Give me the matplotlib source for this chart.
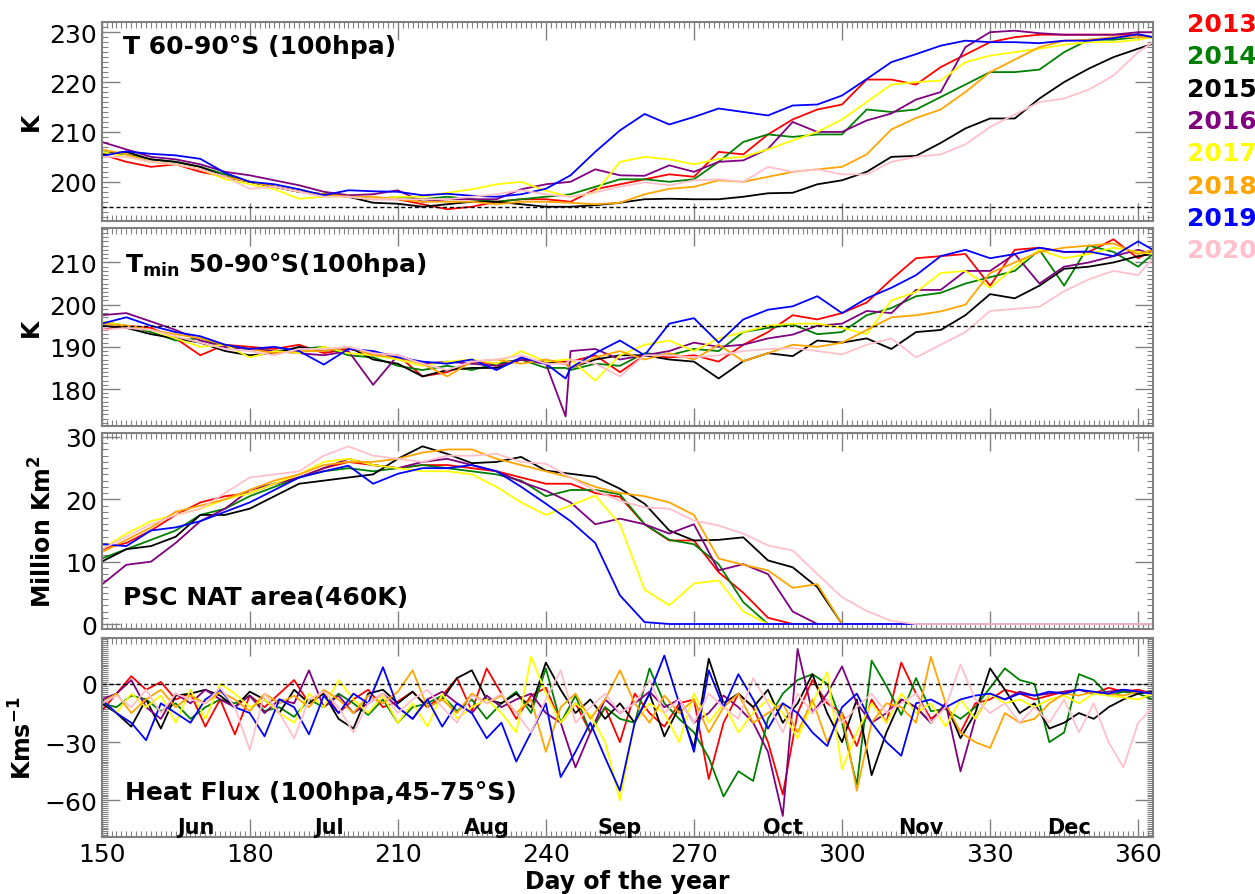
import matplotlib.pyplot as plt
import numpy as np
from matplotlib.ticker import MultipleLocator

plt.rcParams["font.family"] = ["DejaVu Sans"]

years = ["2013", "2014", "2015", "2016", "2017", "2018", "2019", "2020"]
colors = ["red", "green", "black", "purple", "yellow", "orange", "blue", "pink"]

# day axes of the read-off samples
t_days = list(range(150, 361, 5)) + [363]
tmin_days = list(range(150, 241, 5)) + [244] + list(range(245, 361, 5)) + [363]
hf_days = list(range(150, 364, 3))

months = ["Jun", "Jul", "Aug", "Sep", "Oct", "Nov", "Dec"]
month_days = [169, 196, 228, 255, 288, 316, 346]

# T 60-90S at 100 hPa (K)
t60_13 = [205.5, 204, 203, 203.5, 202, 201, 200, 199, 198, 197.5,
          197, 196.5, 196.5, 195.5, 194.5, 195, 196, 196.5, 196.5, 196,
          198.5, 199.5, 200.5, 201.5, 201, 206, 205.5, 209.5, 212.5, 214.5,
          215.5, 220.5, 220.5, 219.5, 223, 225.5, 228, 229, 229.5, 229.5,
          229.5, 229.5, 229.5, 229]
t60_14 = [206, 205.5, 204.5, 204, 203, 201.5, 200, 199, 198, 197.5,
          197, 196.5, 197, 196.5, 197, 196.5, 196, 196.5, 197, 197.5,
          199, 200.5, 200.5, 200, 200.5, 204, 208, 209.5, 209, 209.5,
          209.5, 214.5, 214, 214.5, 217, 219.5, 222, 222, 222.5, 226,
          228.5, 228.5, 229, 229]
t60_15 = [205.5, 206, 204.5, 204, 203, 201, 200, 199, 198, 197.5,
          197, 195.8, 195.6, 195, 195.5, 196, 196, 195.5, 195, 195,
          195.3, 195.8, 196.5, 196.6, 196.5, 196.5, 197, 197.7, 197.8, 199.5,
          200.3, 202, 205, 205.2, 207.8, 210.7, 212.7, 212.7, 216.7, 220,
          222.7, 225, 226.7, 227.7]
t60_16 = [208, 206.5, 205, 204.5, 203.5, 202, 201.3, 200.3, 199.3, 198,
          197.3, 197.5, 198.3, 196, 196.5, 196.5, 196.5, 198.5, 199.5, 200,
          202.5, 201.3, 201.2, 203.3, 202, 204, 204.3, 206.6, 212, 210,
          210, 212.3, 213.7, 216.5, 218, 227, 230, 230.3, 229.8, 229.5,
          229.5, 229.5, 230, 230]
t60_17 = [206, 205, 204, 203.5, 202.5, 200.5, 199.5, 198.5, 196.6, 197,
          197, 196.5, 197, 197, 197.8, 198.5, 199.5, 200, 198.2, 197,
          197.8, 204, 205, 204.5, 203.5, 204.6, 205, 206.5, 208.3, 210,
          212.5, 216, 219.5, 220, 220.3, 224, 225.3, 226, 226.7, 227.5,
          228, 228, 228.5, 229]
t60_18 = [206.5, 205.5, 204, 203.5, 202.5, 201, 200, 199, 198, 197.5,
          197, 197, 196.5, 196, 196, 196, 195.5, 196, 196, 195.8,
          195.5, 195.8, 197.5, 198.6, 199, 200.3, 200, 201, 202, 202.5,
          203, 205.5, 210.5, 212.8, 214.5, 218, 222, 224.5, 227, 228.3,
          228.5, 229, 229, 229]
t60_19 = [205.2, 206.1, 205.6, 205.3, 204.6, 201.8, 200, 199.5, 198.5, 197.3,
          198.3, 198.1, 198, 197.3, 197.6, 197.2, 197, 197.5, 198.6, 201.3,
          206, 210.3, 213.6, 211.5, 213, 214.7, 214, 213.3, 215.3, 215.5,
          217.3, 220.6, 224, 225.6, 227.3, 228.3, 228, 228, 227.8, 228.3,
          228.3, 228.8, 229.6, 229]
t60_20 = [205, 205, 204, 203.5, 202.5, 201, 198.6, 199, 198, 197,
          197, 196.5, 196.5, 196.5, 196.5, 197, 197.5, 198.3, 197.5, 197,
          197.9, 199, 199.9, 199.3, 200.3, 200.5, 200, 203, 202, 202.5,
          201.5, 201.5, 204, 205, 205.5, 207.5, 211, 213.5, 216, 216.7,
          218.5, 221.3, 226, 228]

# Tmin 50-90S at 100 hPa (K)
tmin_13 = [194, 195, 194.5, 192, 188, 190.5, 190, 189.5, 190.5, 188.5,
           189.5, 188.5, 188, 183, 184, 186.5, 186, 187, 186, 186.5,
           186.5, 188, 184, 188, 187.5, 188, 186.5, 190.5, 193.5, 197.5,
           196.5, 198, 200.5, 206, 211, 211.5, 212, 204.5, 213, 213.5,
           212.5, 212.5, 215.5, 211, 213]
tmin_14 = [196, 195, 193.5, 191.5, 192, 190, 189.5, 189, 189.5, 190,
           188, 187.5, 185.5, 184.5, 185.5, 184.5, 186, 187, 185, 185,
           184.5, 186, 185.5, 188.5, 188, 189.5, 189, 193.5, 194.5, 195.3,
           193, 193.5, 197.5, 199.2, 202, 202.8, 205, 206.5, 208, 213,
           204.5, 214, 212.5, 209, 212]
tmin_15 = [195, 194.5, 193, 192, 191, 189, 188, 188.5, 190, 189,
           190, 187, 186, 183, 184.5, 185, 185, 187, 186.5, 186,
           185, 187, 188, 188, 187, 186.5, 182.5, 186.6, 188.5, 187.8,
           191.5, 191, 192, 189.5, 193.5, 194, 197.5, 202.5, 201.5, 204.5,
           208.5, 209, 210, 211.5, 212]
tmin_16 = [197.5, 198, 196, 194, 191.5, 190, 189.5, 189, 188.5, 188,
           189, 181, 188, 186, 186.5, 186, 185.5, 187, 186, 173.5,
           189, 189.5, 187, 188, 189, 191, 190, 190.5, 192, 192.9,
           195, 195.5, 198.5, 198, 203.5, 203.5, 208, 208, 212, 205,
           209, 210, 211.5, 213, 212]
tmin_17 = [196, 195, 194, 192, 190, 190.5, 187.5, 189, 188.5, 190,
           188.5, 188, 187, 185.5, 186.5, 187, 186, 189, 186.5, 187,
           187, 182, 188, 190.5, 191.5, 189, 192, 193.5, 195, 195.5,
           195.5, 194.5, 193, 201, 203, 207.5, 208, 204, 209, 213,
           211, 212, 213.5, 212.5, 212]
tmin_18 = [195.5, 195, 194, 193, 192, 190.5, 189.5, 188.5, 189, 189,
           190, 188, 187.5, 186, 183, 186.5, 187, 186, 187, 186,
           185, 187.5, 189, 187, 188.5, 187, 190.5, 186.6, 188.5, 190.5,
           190, 191, 194, 197, 197.5, 198.4, 200, 207.5, 210, 212.5,
           213.5, 214, 214.5, 212, 213]
tmin_19 = [195.5, 197, 195, 193.5, 192.5, 190.5, 189.5, 190, 189, 185.8,
           189.5, 189, 187.5, 186.5, 186, 187, 184.5, 187.5, 186, 182.5,
           185, 188.5, 191.5, 188, 195.5, 196.8, 191, 196.5, 198.8, 199.6,
           202, 198, 201.5, 204, 207, 211.5, 213, 211, 212, 213.5,
           212.5, 212.6, 211.5, 215, 213]
tmin_20 = [194, 194.5, 194, 192.5, 191, 189.5, 189, 188, 189.5, 189.5,
           190, 188.5, 188, 186, 184.5, 186.5, 187, 188, 186, 186,
           187, 186, 183, 188, 188, 187.5, 188, 189, 189.5, 189.7,
           189, 188.2, 190.5, 192, 187.5, 190.5, 193.5, 198.5, 199, 199.5,
           203.2, 206, 208, 207, 211]

# PSC NAT area at 460 K (million km2), zero once the area is gone
nat_13 = [12, 13, 15, 17.5, 19.5, 20.5, 21, 22.5, 23.5, 25,
          26, 25.5, 25, 25.5, 25.5, 25, 24.5, 23.5, 22.5, 22.5,
          21, 20.4, 16, 13.4, 13.4, 8.3, 5, 1] + [0] * 16
nat_14 = [10.5, 12, 13.5, 15, 17.5, 18.5, 20.5, 22, 23.5, 24.5,
          25, 24.5, 25, 25.5, 25, 24.5, 24, 23, 20.5, 21.5,
          21.5, 20.8, 16, 13.5, 12.8, 9.6, 3.5] + [0] * 17
nat_15 = [10, 12, 12.5, 14, 17.5, 17.5, 18.5, 20.5, 22.5, 23,
          23.5, 24, 26.5, 28.5, 27.3, 25.8, 26, 26.8, 24.6, 24.1,
          23.6, 21.7, 19.3, 15, 13.4, 13.5, 13.9, 10.2, 9.1, 5.9] + [0] * 14
nat_16 = [6.3, 9.5, 10, 13, 16.5, 18.5, 21.5, 22.5, 23.5, 25,
          26.5, 25.5, 25, 26, 26.5, 25.5, 24.5, 22.8, 21.4, 19.5,
          16, 16.9, 16, 14.5, 16, 8.6, 9.6, 8, 2] + [0] * 15
nat_17 = [12, 14.5, 16.5, 17.5, 18.5, 20, 21, 22.5, 24, 26,
          26.5, 25.5, 25, 24.5, 24.5, 24, 22, 19.5, 17.5, 19,
          20.6, 16, 5.5, 3, 6.5, 7, 2] + [0] * 17
nat_18 = [11.5, 13.5, 15.5, 18, 19, 20, 21.5, 23, 24, 25.5,
          26, 26, 26.5, 27.5, 28, 28, 26.5, 25.5, 24.5, 23.5,
          22, 21, 20.5, 19.5, 17.5, 10.5, 9.5, 8.6, 5.8, 6.4] + [0] * 14
nat_19 = [12.8, 12.5, 15, 15.5, 16.5, 18, 19.5, 21.5, 23.5, 24.5,
          25.4, 22.5, 24.1, 25, 25, 25.5, 24.5, 22, 19.3, 16.5,
          13, 4.6, 0.3] + [0] * 21
nat_20 = [12, 14, 16, 17.5, 18.5, 21, 23.5, 24, 24.5, 27,
          28.5, 27, 26.5, 26, 27, 27, 27.3, 26, 25.7, 23.5,
          21.4, 19.8, 18.7, 18.5, 16.6, 15.8, 14.5, 12.6, 11.8, 8,
          4.3, 2.1, 0.5] + [0] * 11

# eddy heat flux 100 hPa, 45-75S (K m/s), every 3rd day
hf_13 = [-14, -5, 4, -3, 1, -8, -5, -22, -8,
         -26, -6, -12, -5, 2, -10, -4, -15, -8,
         -3, -12, -9, -4, -12, -6, 3, -14, 8,
         -5, -18, -6, -2, -20, -10, -25, -12, -30,
         -5, -15, -22, -10, -8, -49, -20, -5, -12,
         -30, -57, -15, 2, -10, -15, -32, -8, -20,
         11, -5, -18, -12, -25, -10, -8, -3, -5,
         -8, -6, -4, -3, -5, -2, -4, -3, -5]
hf_14 = [-10, -12, -6, -8, -14, -10, -18, -12, -8,
         -10, -6, -14, -12, -17, -8, -12, -5, -10,
         -16, -8, -20, -12, -10, -6, -14, -8, -18,
         -10, -4, -15, 8, -20, -6, -25, -12, -18,
         -20, 8, -10, -18, -25, -38, -58, -45, -50,
         -18, -5, 2, 5, 0, -20, -52, 12, -1,
         -16, 3, -14, -13, -18, -12, -2, 8, 2,
         0, -30, -25, 5, 2, -6, -4, -5, -8]
hf_15 = [-10, -15, -22, -8, -23, -6, -5, -3, -6,
         -12, -4, -8, -15, -3, -10, -5, -18, -23,
         -5, -3, -10, -4, -12, -8, 3, 7, -8,
         -10, -5, -12, 11, -3, -15, -8, -18, -10,
         -20, -5, -27, -12, -33, 13, -10, -5, -12,
         -3, -20, -10, 5, -15, -30, -8, -47, -25,
         -8, -12, -20, -10, -28, -15, 8, -3, -15,
         -10, -23, -20, -15, -18, -12, -8, -5, -4]
hf_16 = [-8, -5, 2, -12, -18, -5, -10, -3, -8,
         -12, -6, -15, -8, -10, 7, -12, -6, -15,
         -10, -5, -12, -18, -8, -4, -10, -15, -6,
         -12, -8, -5, -15, -20, -43, -25, -8, -15,
         -10, -4, -12, -8, -20, -15, -6, -12, -20,
         -35, -68, 18, -15, -5, 9, -10, -20, -15,
         -8, -12, -20, -10, -45, -18, -5, -8, -4,
         -6, -5, -4, -3, -5, -4, -3, -4, -5]
hf_17 = [-8, -15, -5, -12, -6, -20, -3, -18, 0,
         -5, -12, -8, -15, -20, -5, -12, 2, -8,
         -15, -6, -20, -10, -22, -5, -18, -12, -8,
         -15, -25, 14, -5, -20, -10, -16, -30, -60,
         -20, -10, -15, -30, -5, -20, -10, -25, -15,
         -8, -15, -28, -10, 6, -44, -25, -10, -20,
         -5, -15, -10, -22, -8, -18, -5, -10, -8,
         -12, -8, -6, -10, -5, -6, -7, -8, -5]
hf_18 = [-10, -5, -15, -8, -3, -12, -6, -10, -4,
         -8, -14, -5, -10, -6, -12, -3, -8, -15,
         -6, -10, -4, 7, -12, -8, -15, -5, -10,
         -6, -15, -8, -35, -12, -5, -18, -8, 7,
         -10, -20, -6, -15, -8, -25, -12, -5, -20,
         -15, -10, -25, -8, -30, -15, -55, -20, -10,
         -12, -20, 14, -10, -25, -30, -33, -15, -20,
         -18, -10, -5, -6, -4, -5, -6, -4, -5]
hf_19 = [-8, -15, -20, -29, -10, -15, -20, -8, -3,
         -12, -15, -27, -8, -12, -26, -6, -15, -5,
         -10, 8.6, -12, -18, -8, -22, -10, -15, -28,
         -20, -40, -25, -10, -48, -35, -20, -38, -55,
         -20, -5, 14.6, -10, -35, 7, -12, 5, -8,
         -23, -10, -15, -25, -32, -12, -5, -20, -30,
         -37, -10, -8, -12, -8, -6, -5, -8, -5,
         -6, -4, -5, -3, -4, -5, -3, -4, -5]
hf_20 = [-10, -6, -12, -3, -15, -5, -8, -10, -2,
         -12, -34, -5, -15, -28, -8, -4, -12, -25,
         -10, -5, -15, -8, -3, -12, -20, -6, -10,
         -5, -15, -25, -8, 7, -20, -12, -5, -15,
         -10, 2, -15, -8, -20, -5, -12, -18, 3,
         -10, -25, -5, -15, -8, -20, -12, -5, -15,
         -10, -5, -20, -12, 10, -8, -15, -10, -20,
         -12, -20, -8, -25, -10, -30, -43, -20, -12]


def style_axis(ax, ylim, yticks, show_x=False):
    ax.set_xlim(150, 363)
    ax.set_ylim(*ylim)
    ax.xaxis.set_major_locator(MultipleLocator(30))
    ax.xaxis.set_minor_locator(MultipleLocator(1))
    ax.set_yticks(yticks)
    ax.yaxis.set_minor_locator(MultipleLocator(1))
    ax.tick_params(which="both", direction="in", top=True, right=True,
                   color="grey", labelsize=18, labelbottom=show_x)
    ax.tick_params(which="major", length=13, width=1)
    ax.tick_params(which="minor", length=4, width=0.8)
    for spine in ax.spines.values():
        spine.set_color("grey")
        spine.set_linewidth(1.5)


fig = plt.figure(figsize=(12.55, 8.95), dpi=100)
left, width = 0.081, 0.8377
ax1 = fig.add_axes([left, 0.7523, width, 0.2223])
ax2 = fig.add_axes([left, 0.5232, width, 0.2206])
ax3 = fig.add_axes([left, 0.2961, width, 0.2187])
ax4 = fig.add_axes([left, 0.0634, width, 0.2223])

t60_all = [t60_13, t60_14, t60_15, t60_16, t60_17, t60_18, t60_19, t60_20]
tmin_all = [tmin_13, tmin_14, tmin_15, tmin_16, tmin_17, tmin_18, tmin_19, tmin_20]
nat_all = [nat_13, nat_14, nat_15, nat_16, nat_17, nat_18, nat_19, nat_20]
hf_all = [hf_13, hf_14, hf_15, hf_16, hf_17, hf_18, hf_19, hf_20]

for i, c in enumerate(colors):
    ax1.plot(t_days, t60_all[i], color=c, lw=1.3)
    ax2.plot(tmin_days, tmin_all[i], color=c, lw=1.3)
    ax3.plot(t_days, nat_all[i], color=c, lw=1.3)
    ax4.plot(hf_days, hf_all[i], color=c, lw=1.3)

dash = (0, (3, 2))
ax1.axhline(195, color="black", lw=1, ls=dash)
ax2.axhline(195, color="black", lw=1, ls=dash)
ax4.axhline(0, color="black", lw=1, ls=dash)

style_axis(ax1, (192.2, 232.1), [200, 210, 220, 230])
style_axis(ax2, (171.3, 218.1), [180, 190, 200, 210])
style_axis(ax3, (-0.8, 30.6), [0, 10, 20, 30])
style_axis(ax4, (-79, 23.5), [-60, -30, 0], show_x=True)

title_kw = dict(fontsize=18, fontweight="bold", va="center", ha="left")
ax1.text(0.020, 0.879, "T 60-90°S (100hpa)", transform=ax1.transAxes, **title_kw)
ax2.text(0.022, 0.819, r"$\mathbf{T}_{\mathbf{min}}$ 50-90°S(100hpa)",
         transform=ax2.transAxes, **title_kw)
ax3.text(0.020, 0.162, "PSC NAT area(460K)", transform=ax3.transAxes, **title_kw)
ax4.text(0.022, 0.226, "Heat Flux (100hpa,45-75°S)", transform=ax4.transAxes, **title_kw)

label_kw = dict(fontsize=17, fontweight="bold")
ax1.set_ylabel("K", **label_kw)
ax1.yaxis.set_label_coords(-0.056, 0.5)
ax2.set_ylabel("K", **label_kw)
ax2.yaxis.set_label_coords(-0.056, 0.5)
ax3.set_ylabel(r"Million Km$^{\mathbf{2}}$", **label_kw)
ax3.yaxis.set_label_coords(-0.043, 0.5)
ax4.set_ylabel(r"Kms$^{\mathbf{-1}}$", **label_kw)
ax4.yaxis.set_label_coords(-0.062, 0.5)
ax4.set_xlabel("Day of the year", fontsize=17, fontweight="bold", labelpad=2)

for m, d in zip(months, month_days):
    ax4.text(d, -73.5, m, fontsize=15, fontweight="bold", ha="center", va="center")

# year legend to the right of the panels
for i, (yr, c) in enumerate(zip(years, colors)):
    fig.text(0.946, 1 - (25 + 32.3 * i) / 895, yr, color=c, fontsize=18,
             fontweight="bold", ha="left", va="center")

fig.savefig("out.png", dpi=100)
plt.close("all")
